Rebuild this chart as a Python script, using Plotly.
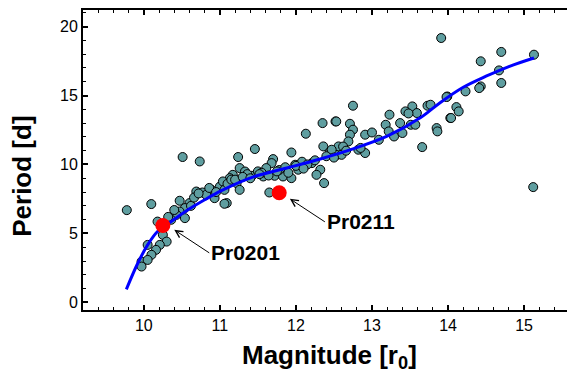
import plotly.graph_objects as go

# scatter data (magnitude, period)
mag = [10.51, 10.735, 9.776, 10.098, 10.471, 10.69, 10.77, 10.89, 10.93, 11.0, 11.09, 10.60, 10.54, 10.47, 10.43, 10.54,
       10.36, 10.18, 10.25, 10.30, 10.21, 10.05, 10.16, 10.10, 9.97, 9.97, 10.05,
       12.35, 12.52, 12.13, 11.46, 11.94, 11.24, 11.70, 11.68, 11.61, 11.26, 11.33, 11.17, 11.13, 11.04, 11.22, 11.26,
       11.06, 11.57, 11.72, 11.83, 11.94, 12.03, 11.99, 12.21, 12.32, 12.27, 12.37, 12.36, 12.45, 12.54, 11.65, 11.06, 11.42,
       12.75, 12.53, 13.23, 13.53, 13.73, 13.77, 13.99, 14.03, 12.71, 12.75, 12.71, 12.69, 12.56, 12.47, 12.60, 12.82, 12.91,
       12.91, 13.0, 13.09, 13.18, 13.22, 13.29, 13.37, 13.40, 13.51, 13.57, 13.66, 13.85, 13.86, 13.59, 13.44, 13.48,
       13.91, 14.70, 15.13, 14.43, 14.67, 14.70, 14.43, 14.41, 14.23, 13.98, 14.11, 14.14, 14.04, 15.12,
       10.62, 10.66, 10.82, 10.86, 11.10, 11.15, 11.36, 11.50, 11.55, 11.78, 11.86, 12.08, 12.15, 12.40, 12.62, 12.66,
       10.32, 10.40, 10.72, 10.95, 11.20, 11.30, 11.40, 11.52, 11.64, 11.75, 11.90, 12.00, 12.10, 12.25, 12.50, 12.85]
period = [10.54, 10.22, 6.69, 7.13, 7.37, 8.04, 7.97, 8.16, 7.56, 8.40, 7.2, 7.2, 6.84, 6.59, 6.35, 6.11,
          5.99, 5.86, 4.90, 4.41, 4.17, 4.17, 3.81, 3.45, 2.96, 2.60, 3.08,
          13.0, 13.12, 12.23, 11.12, 10.87, 10.54, 10.39, 10.10, 9.74, 9.74, 9.49, 9.25, 9.01, 8.77, 8.65, 8.16,
          8.16, 9.13, 9.18, 9.13, 9.01, 9.62, 9.98, 10.10, 9.62, 9.25, 8.65, 11.31, 10.94, 10.70, 7.97, 7.15, 9.18,
          14.26, 13.12, 13.61, 14.21, 14.26, 14.33, 14.93, 13.37, 12.95, 12.52, 12.16, 11.67, 11.31, 11.07, 10.70, 11.07, 10.83,
          12.16, 12.32, 11.79, 12.88, 12.40, 12.03, 13.0, 12.28, 12.88, 12.88, 11.26, 12.64, 12.40, 13.73, 13.85, 13.70,
          19.17, 18.16, 17.96, 17.48, 16.82, 15.91, 15.66, 15.54, 15.30, 14.89, 14.16, 13.85, 13.37, 8.36,
          7.0, 7.6, 7.8, 8.3, 8.6, 8.9, 9.3, 9.5, 9.4, 9.6, 9.8, 10.2, 10.0, 10.6, 11.3, 11.0,
          6.2, 6.7, 7.9, 8.0, 8.9, 9.1, 9.0, 9.3, 9.2, 9.5, 9.4, 9.9, 9.7, 10.3, 10.5, 11.2]

# highlighted objects
hl_mag = [10.25, 11.78]
hl_period = [5.58, 7.95]
hl_names = ["Pr0201", "Pr0211"]
arrow_x = [10.40, 11.92]
arrow_y = [5.26, 7.51]

# fitted curve
fit_mag = [9.77, 9.92, 10.05, 10.18, 10.36, 10.58, 10.80, 11.02, 11.44, 11.88, 12.32, 12.76, 13.20, 13.64, 13.90, 14.20, 14.50, 14.80, 15.13]
fit_period = [0.95, 2.84, 4.17, 5.14, 5.86, 6.71, 7.44, 8.10, 9.10, 9.74, 10.40, 11.15, 12.05, 13.40, 14.50, 15.60, 16.40, 17.10, 17.72]

FONT = "Arial, Liberation Sans, sans-serif"

fig = go.Figure()
fig.add_trace(go.Scatter(x=mag, y=period, mode="markers",
                         marker=dict(size=9, color="#5f9ea0", line=dict(color="black", width=1)),
                         showlegend=False))
fig.add_trace(go.Scatter(x=fit_mag, y=fit_period, mode="lines",
                         line=dict(color="#0000ff", width=3, shape="spline", smoothing=1.0),
                         showlegend=False))
fig.add_trace(go.Scatter(x=hl_mag, y=hl_period, mode="markers",
                         marker=dict(size=15, color="#ff0000"), showlegend=False))

for name, xh, yh in zip(hl_names, arrow_x, arrow_y):
    fig.add_annotation(x=xh, y=yh, text="<b>%s</b>" % name, showarrow=True,
                       ax=35, ay=23, xanchor="left", yanchor="middle",
                       arrowhead=5, arrowsize=1.4, arrowwidth=1, arrowcolor="black",
                       font=dict(family=FONT, size=21, color="black"))

# axis titles
fig.add_annotation(text="<b>Magnitude [r<sub>0</sub>]</b>", xref="paper", yref="paper",
                   x=0.505, y=-0.155, xanchor="center", yanchor="middle", showarrow=False,
                   font=dict(family=FONT, size=26, color="black"))
fig.add_annotation(text="<b>Period [d]</b>", xref="paper", yref="paper", textangle=-90,
                   x=-0.125, y=0.447, xanchor="center", yanchor="middle", showarrow=False,
                   font=dict(family=FONT, size=26, color="black"))

axis_common = dict(showline=True, linewidth=2, linecolor="black", mirror="allticks",
                   ticks="inside", ticklen=5, tickwidth=1.5, tickcolor="black",
                   showgrid=False, zeroline=False, automargin=False,
                   tickfont=dict(family=FONT, size=16, color="black"))

fig.update_xaxes(range=[9.2, 15.63], dtick=1, tick0=10,
                 minor=dict(dtick=0.2, ticklen=3, ticks="inside", tickcolor="black", tickwidth=1),
                 **axis_common)
fig.update_yaxes(range=[-0.55, 21.2], dtick=5, tick0=0,
                 minor=dict(dtick=1, ticklen=3, ticks="inside", tickcolor="black", tickwidth=1),
                 **axis_common)

# page body has an 8px default margin, so the figure is sized to fit the window from (8, 8)
fig.update_layout(width=567, height=368, margin=dict(l=75, r=3, t=2, b=66, autoexpand=False),
                  plot_bgcolor="white", paper_bgcolor="white")
fig.write_html("out.html")
